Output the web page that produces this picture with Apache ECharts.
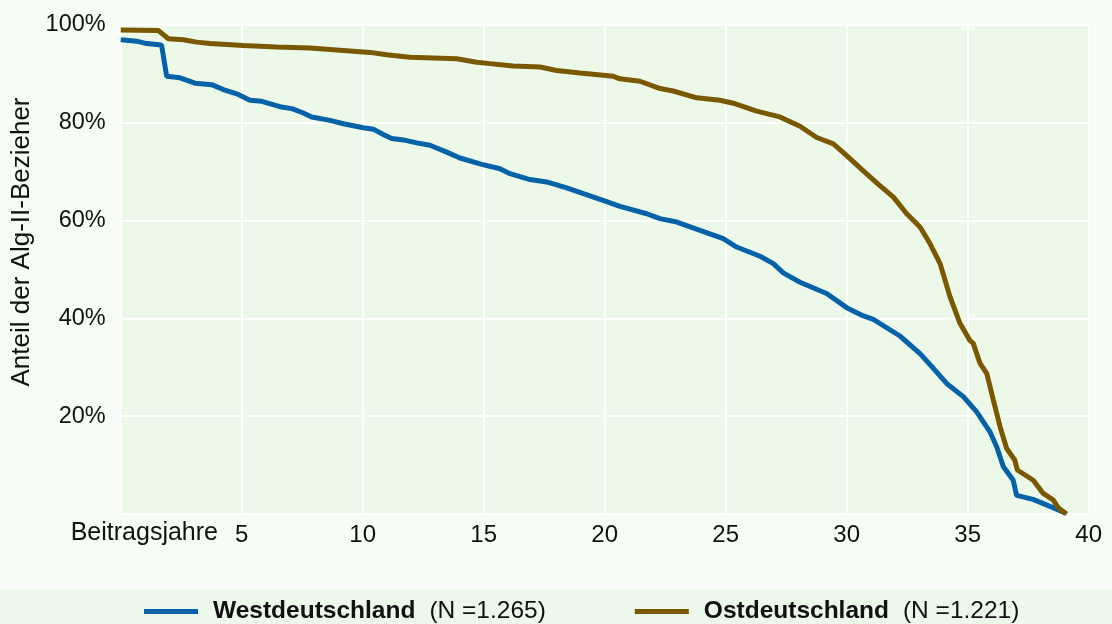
<!DOCTYPE html>
<html>
<head>
<meta charset="utf-8">
<script src="https://cdn.jsdelivr.net/npm/echarts@6/dist/echarts.min.js"></script>
<style>
html,body{margin:0;padding:0;background:#f7fdf6;}
#c{width:1112px;height:624px;}
</style>
</head>
<body>
<div id="c"></div>
<script>
var xTicks = [0, 5, 10, 15, 20, 25, 30, 35, 40];
var yTicks = [0, 20, 40, 60, 80, 100];
var seriesNames = ['Westdeutschland', 'Ostdeutschland'];
var seriesN = ['(N =1.265)', '(N =1.221)'];

var westYears = [0, 0.66, 1.07, 1.69, 1.9, 2.45, 3.07, 3.76, 4.24, 4.86, 5.34, 5.83, 6.58, 7.07, 7.55, 7.89, 8.65, 9.2, 10.02, 10.44, 10.85, 11.2, 11.68, 12.23, 12.78, 13.47, 14.02, 14.92, 15.67, 16.09, 16.91, 17.6, 18.43, 19.12, 20.08, 20.63, 21.74, 22.28, 22.98, 23.94, 24.9, 25.45, 26.42, 26.97, 27.38, 28.07, 29.17, 30.0, 30.69, 31.1, 32.2, 33.03, 33.58, 34.13, 34.82, 35.37, 35.92, 36.2, 36.47, 36.88, 37.02, 37.7, 38.53, 39.02];
var westShare = [97.0, 96.7, 96.2, 95.9, 89.5, 89.2, 88.1, 87.8, 86.8, 85.8, 84.6, 84.4, 83.3, 82.9, 82.0, 81.2, 80.5, 79.8, 79.0, 78.7, 77.6, 76.8, 76.5, 75.9, 75.4, 74.0, 72.8, 71.5, 70.6, 69.6, 68.4, 67.9, 66.7, 65.5, 63.9, 62.9, 61.4, 60.4, 59.7, 58.0, 56.3, 54.6, 52.7, 51.2, 49.3, 47.4, 45.1, 42.2, 40.5, 39.8, 36.4, 32.8, 29.8, 26.7, 24.0, 20.9, 16.8, 13.7, 9.7, 6.9, 3.8, 3.0, 1.3, 0.2];

var ostYears = [0, 1.55, 1.97, 2.59, 3.14, 3.69, 5.07, 6.45, 7.82, 9.2, 10.3, 10.99, 11.95, 13.88, 14.71, 15.26, 16.22, 17.33, 18.02, 18.98, 20.36, 20.63, 21.46, 22.29, 22.83, 23.8, 24.76, 25.31, 26.28, 27.24, 28.07, 28.76, 29.45, 30.0, 30.55, 31.24, 31.93, 32.48, 33.03, 33.44, 33.86, 34.27, 34.68, 35.09, 35.23, 35.51, 35.79, 36.06, 36.34, 36.61, 36.95, 37.05, 37.71, 38.12, 38.53, 38.75, 39.09];
var ostShare = [99.0, 98.9, 97.2, 97.0, 96.5, 96.2, 95.8, 95.5, 95.3, 94.8, 94.4, 93.9, 93.4, 93.1, 92.4, 92.1, 91.6, 91.4, 90.7, 90.2, 89.5, 89.0, 88.5, 87.0, 86.5, 85.1, 84.6, 84.0, 82.4, 81.2, 79.3, 77.0, 75.7, 73.3, 70.8, 67.7, 64.8, 61.4, 58.7, 55.3, 51.2, 44.4, 39.0, 35.5, 34.9, 30.8, 28.7, 23.3, 17.8, 13.4, 11.0, 9.0, 6.9, 4.2, 2.9, 1.2, 0];

function pairs(xs, ys) { return xs.map(function (x, i) { return [x, ys[i]]; }); }

var FONT = '"Liberation Sans", Arial, sans-serif';
var chart = echarts.init(document.getElementById('c'), null, {renderer: 'canvas'});
chart.setOption({
  backgroundColor: '#f7fdf6',
  animation: false,
  textStyle: {fontFamily: FONT},
  grid: {left: 120.7, right: 23.3, top: 25, bottom: 110, show: true, backgroundColor: '#ecf9e9', borderWidth: 0},
  xAxis: {
    type: 'value', min: xTicks[0], max: xTicks[xTicks.length - 1], interval: 5,
    axisLine: {show: false}, axisTick: {show: false},
    splitLine: {show: true, lineStyle: {color: '#ffffff', width: 2}},
    axisLabel: {
      margin: 9, color: '#111', fontSize: 24, fontFamily: FONT,
      formatter: function (v) { return v === 0 ? '' : String(v); }
    }
  },
  yAxis: {
    type: 'value', min: yTicks[0], max: yTicks[yTicks.length - 1], interval: 20,
    axisLine: {show: false}, axisTick: {show: false},
    splitLine: {show: true, lineStyle: {color: '#ffffff', width: 2}},
    axisLabel: {
      margin: 15, color: '#111', fontSize: 23.5, fontFamily: FONT,
      formatter: function (v) { return v === 0 ? '' : v + '%'; }
    }
  },
  legend: {
    bottom: -5, left: 139,
    itemWidth: 54, itemHeight: 5, itemGap: 89,
    icon: 'rect',
    data: seriesNames,
    formatter: function (name) {
      var i = seriesNames.indexOf(name);
      return '{b|' + name + '}{n|' + seriesN[i] + '}';
    },
    textStyle: {
      padding: [0, 0, 0, 10],
      rich: {
        b: {fontWeight: 'bold', fontSize: 24.5, color: '#111', fontFamily: FONT},
        n: {fontSize: 24.5, color: '#111', fontFamily: FONT, padding: [0, 0, 0, 14]}
      }
    }
  },
  graphic: [
    {type: 'rect', left: 0, top: 589, z: -10, shape: {width: 1112, height: 35}, style: {fill: '#ecf8e9'}},
    {type: 'text', x: 218, y: 533, style: {text: 'Beitragsjahre', font: '25px "Liberation Sans", Arial, sans-serif', fill: '#111', textAlign: 'right', textVerticalAlign: 'middle'}},
    {type: 'text', x: 22, y: 242, rotation: Math.PI / 2, style: {text: 'Anteil der Alg-II-Bezieher', font: '26px "Liberation Sans", Arial, sans-serif', fill: '#111', textAlign: 'center', textVerticalAlign: 'middle'}}
  ],
  series: [
    {name: seriesNames[0], type: 'line', showSymbol: false, data: pairs(westYears, westShare),
     itemStyle: {color: '#0562a8'}, lineStyle: {color: '#0562a8', width: 5}},
    {name: seriesNames[1], type: 'line', showSymbol: false, data: pairs(ostYears, ostShare),
     itemStyle: {color: '#7a5800'}, lineStyle: {color: '#7a5800', width: 5}}
  ]
});
</script>
</body>
</html>
